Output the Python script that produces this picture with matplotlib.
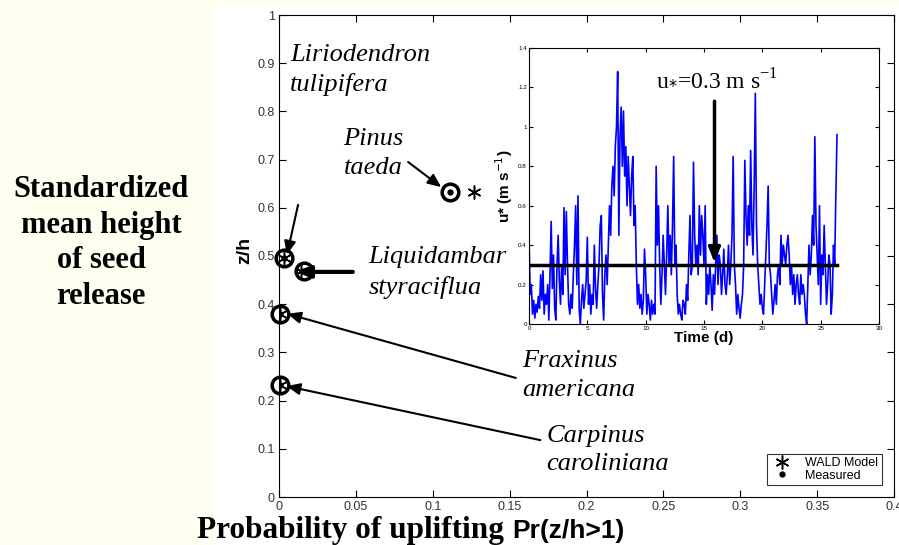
import numpy as np
import matplotlib.pyplot as plt
from matplotlib.patches import Rectangle

# measured / WALD model points (Pr(z/h>1), z/h)
species = ["Liriodendron\ntulipifera", "Pinus\ntaeda", "Liquidambar\nstyraciflua",
           "Fraxinus\namericana", "Carpinus\ncaroliniana"]
meas_x = [0.003, 0.111, 0.016, 0.0008, 0.0008]
meas_y = [0.496, 0.633, 0.469, 0.380, 0.232]
wald_x = [0.003, 0.127, 0.014, 0.0008, 0.0008]
wald_y = [0.496, 0.633, 0.469, 0.380, 0.232]

# friction velocity record, one value every 0.1 d
t_step = 0.1
ustar = [
    0.45, 0.15, 0.20, 0.05, 0.12, 0.03, 0.10, 0.06, 0.14, 0.08,
    0.25, 0.12, 0.27, 0.05, 0.15, 0.10, 0.20, 0.02, 0.25, 0.52,
    0.18, 0.35, 0.08, 0.02, 0.30, 0.45, 0.22, 0.10, 0.30, 0.15,
    0.59, 0.25, 0.57, 0.30, 0.10, 0.05, 0.15, 0.08, 0.25, 0.40,
    0.60, 0.20, 0.65, 0.08, 0.00, 0.12, 0.20, 0.08, 0.15, 0.22,
    0.44, 0.10, 0.20, 0.05, 0.15, 0.10, 0.40, 0.18, 0.08, 0.20,
    0.30, 0.50, 0.55, 0.15, 0.02, 0.25, 0.35, 0.20, 0.40, 0.60,
    0.45, 0.70, 0.80, 0.65, 0.90, 1.00, 1.28, 0.45, 0.95, 1.10,
    0.80, 1.08, 0.75, 0.90, 0.60, 0.85, 0.70, 0.55, 0.75, 0.85,
    0.50, 0.60, 0.30, 0.10, 0.20, 0.08, 0.15, 0.05, 0.12, 0.38,
    0.25, 0.05, 0.15, 0.10, 0.02, 0.12, 0.05, 0.10, 0.05, 0.80,
    0.40, 0.60, 0.30, 0.10, 0.25, 0.45, 0.30, 0.15, 0.35, 0.60,
    0.30, 0.45, 0.25, 0.50, 0.85, 0.30, 0.40, 0.15, 0.05, 0.10,
    0.05, 0.02, 0.12, 0.10, 0.05, 0.20, 0.12, 0.35, 0.55, 0.25,
    0.30, 0.82, 0.45, 0.30, 0.40, 0.25, 0.60, 0.35, 0.55, 0.45,
    0.30, 0.60, 0.10, 0.25, 0.15, 0.30, 0.20, 0.07, 0.25, 0.15,
    0.30, 0.45, 0.20, 0.35, 0.30, 0.15, 0.25, 0.38, 0.20, 0.15,
    0.25, 0.40, 0.20, 0.30, 0.45, 0.85, 0.30, 0.20, 0.05, 0.15,
    0.08, 0.03, 0.10, 0.15, 0.30, 0.83, 0.55, 0.40, 0.60, 0.45,
    0.88, 0.50, 0.35, 0.70, 1.17, 0.50, 0.30, 0.20, 0.10, 0.15,
    0.08, 0.05, 0.20, 0.35, 0.50, 0.70, 0.30, 0.25, 0.15, 0.05,
    0.12, 0.20, 0.10, 0.25, 0.30, 0.20, 0.45, 0.30, 0.40, 0.35,
    0.30, 0.40, 0.45, 0.35, 0.20, 0.30, 0.15, 0.25, 0.10, 0.20,
    0.25, 0.15, 0.10, 0.25, 0.15, 0.20, 0.15, 0.05, 0.00, 0.20,
    0.40, 0.25, 0.35, 0.55, 0.40, 0.95, 0.50, 0.35, 0.20, 0.60,
    0.10, 0.35, 0.25, 0.50, 0.30, 0.10, 0.20, 0.35, 0.30, 0.05,
    0.15, 0.40, 0.30, 0.65, 0.96,
]
u_thresh = 0.3

serif = ["Liberation Serif", "DejaVu Serif"]
sans = ["Liberation Sans", "DejaVu Sans"]
plt.rcParams["font.family"] = sans

fig = plt.figure(figsize=(8.99, 5.45), dpi=100)
fig.patch.set_facecolor("#fffff0")
fig.patches.append(Rectangle((213 / 899, 0), 1, 540 / 545, transform=fig.transFigure,
                             facecolor="white", edgecolor="none", zorder=-10))

ax = fig.add_axes([279 / 899, 48 / 545, 615 / 899, 482 / 545])
ax.set_facecolor("white")
ax.set_xlim(0, 0.4)
ax.set_ylim(0, 1)
ax.set_xticks(np.arange(0, 0.41, 0.05))
ax.set_xticklabels(["0", "0.05", "0.1", "0.15", "0.2", "0.25", "0.3", "0.35", "0.4"])
ax.set_yticks(np.arange(0, 1.01, 0.1))
ax.set_yticklabels(["0", "0.1", "0.2", "0.3", "0.4", "0.5", "0.6", "0.7", "0.8", "0.9", "1"])
ax.tick_params(direction="in", top=True, right=True, labelsize=9, labelcolor="#333333",
               length=5, pad=3)
for s in ax.spines.values():
    s.set_linewidth(0.8)

ax.plot(wald_x, wald_y, linestyle="none", marker=(6, 2, 0), markersize=10,
        markeredgewidth=1.1, color="black", label="WALD Model", zorder=4)
ax.plot(meas_x, meas_y, linestyle="none", marker="o", markersize=3.5,
        color="black", label="Measured", zorder=4)
ax.plot(meas_x, meas_y, linestyle="none", marker="o", markersize=12,
        markerfacecolor="none", markeredgecolor="black", markeredgewidth=2.5,
        clip_on=False, zorder=5)

# species labels and arrows
text_pos = [(0.0072, 0.94), (0.042, 0.765), (0.058, 0.52), (0.158, 0.305), (0.174, 0.15)]
arrow_from = [(0.0124, 0.606), (0.084, 0.695), (0.048, 0.467), (0.154, 0.247), (0.170, 0.118)]
arrow_to = [(0.0052, 0.503), (0.1055, 0.643), (0.0115, 0.467), (0.0055, 0.380), (0.0050, 0.230)]
arrow_lw = [1.5, 1.5, 3.0, 1.5, 1.5]
for name, (tx, ty), a0, a1, lw in zip(species, text_pos, arrow_from, arrow_to, arrow_lw):
    ax.text(tx, ty, name, family=serif, style="italic", fontsize=19, va="top",
            ha="left", linespacing=1.4, zorder=3)
    ax.annotate("", xy=a1, xytext=a0,
                arrowprops=dict(arrowstyle="-|>,head_length=0.8,head_width=0.35",
                                color="black", lw=lw, shrinkA=0, shrinkB=0), zorder=3)

leg = ax.legend(loc="lower right", fontsize=9, frameon=True, fancybox=False,
                borderpad=0.25, handletextpad=1.0, labelspacing=0.05,
                bbox_to_anchor=(0.99, 0.012), handlelength=1.8)
leg.get_frame().set_edgecolor("black")
leg.get_frame().set_linewidth(0.8)

# inset: u* time series
ins = fig.add_axes([529 / 899, 221 / 545, 350 / 899, 276 / 545])
ins.set_zorder(6)
t = t_step * np.arange(len(ustar))
ins.plot(t, ustar, color="#0000ff", lw=1.2)
ins.plot([t[0], t[-1]], [u_thresh, u_thresh], color="black", lw=2.5)
ins.annotate("", xy=(15.9, u_thresh + 0.01), xytext=(15.9, 1.13),
             arrowprops=dict(arrowstyle="-|>,head_length=0.9,head_width=0.35",
                             color="black", lw=2.5, shrinkA=0, shrinkB=0))
ins.text(10.9, 1.21, r"u$_{*}$=0.3 m s$^{\mathregular{-1}}$", family=serif, fontsize=17)
ins.set_xlim(0, 30)
ins.set_ylim(0, 1.4)
ins.set_xticks(np.arange(0, 31, 5))
ins.set_yticks(np.arange(0, 1.41, 0.2))
ins.set_yticklabels(["0", "0.2", "0.4", "0.6", "0.8", "1", "1.2", "1.4"])
ins.tick_params(direction="in", top=True, right=True, labelsize=4.5, length=3, pad=1.5)
ins.set_xlabel("Time (d)", fontsize=11, fontweight="bold", labelpad=0)
ins.set_ylabel(r"u* (m s$^{-1}$)", fontsize=11, fontweight="bold", labelpad=2)

fig.text(245 / 899, 1 - 250 / 545, "z/h", rotation=90, fontsize=14, fontweight="bold",
         ha="center", va="center")
fig.text(101 / 899, 1 - 243 / 545, "Standardized\nmean height\nof seed\nrelease",
         family=serif, fontsize=22, fontweight="bold", ha="center", va="center",
         multialignment="center", linespacing=1.3)
fig.text(197 / 899, 1 - 538 / 545, "Probability of uplifting", family=serif,
         fontsize=22.5, fontweight="bold", ha="left", va="baseline")
fig.text(512 / 899, 1 - 538 / 545, "Pr(z/h>1)", family=sans,
         fontsize=19, fontweight="bold", ha="left", va="baseline")

fig.savefig("out.png", dpi=100, facecolor=fig.get_facecolor())
